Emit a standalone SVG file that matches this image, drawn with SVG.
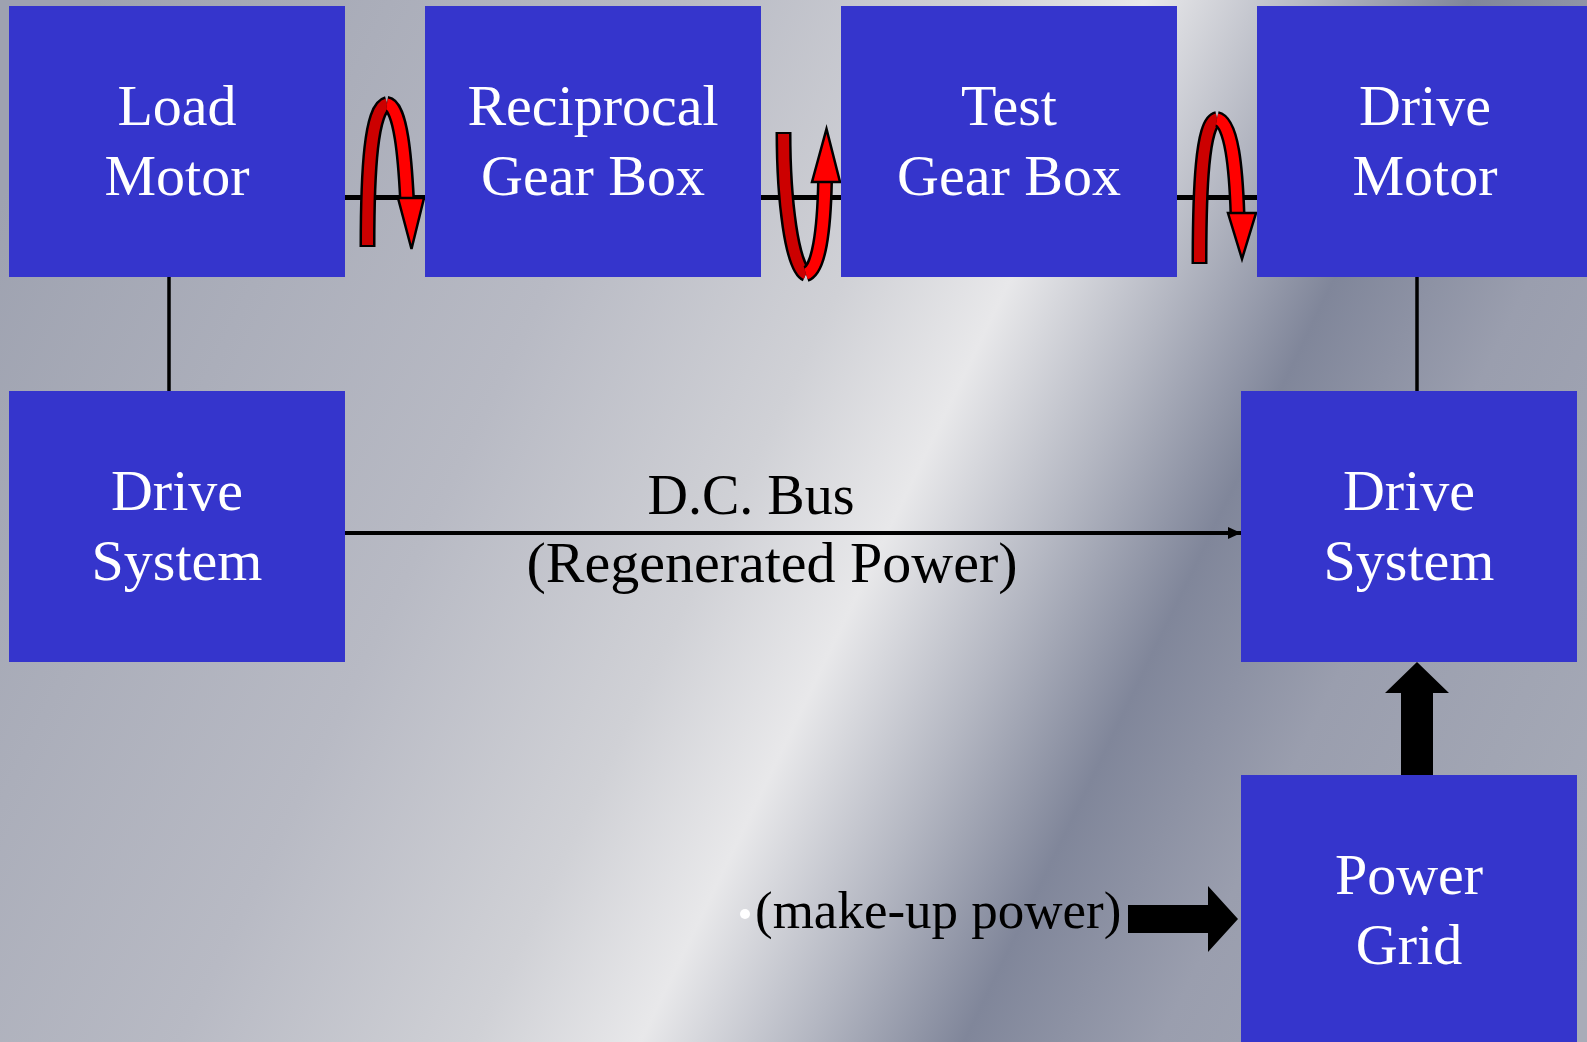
<svg xmlns="http://www.w3.org/2000/svg" width="1587" height="1042" viewBox="0 0 1587 1042">
<defs>
<linearGradient id="bg" gradientUnits="userSpaceOnUse" x1="0" y1="200" x2="1587" y2="970">
<stop offset="0" stop-color="#9ea2b0"/>
<stop offset="0.3" stop-color="#b8bac4"/>
<stop offset="0.45" stop-color="#d0d1d6"/>
<stop offset="0.535" stop-color="#e8e8ea"/>
<stop offset="0.62" stop-color="#b4b7c2"/>
<stop offset="0.70" stop-color="#80869a"/>
<stop offset="0.8" stop-color="#9a9eae"/>
<stop offset="1" stop-color="#a8acb8"/>
</linearGradient>
<marker id="ah" markerWidth="13" markerHeight="12" refX="13" refY="6" orient="auto" markerUnits="userSpaceOnUse">
<path d="M0,0 L13,6 L0,12 Z" fill="#000"/>
</marker>
<style>
.box{fill:#3535cc}
.bt{font-family:"Liberation Serif",serif;font-size:58px;fill:#fff;text-anchor:middle}
.lt{font-family:"Liberation Serif",serif;fill:#000}
.ol{fill:none;stroke:#000;stroke-width:16}
.dk{fill:none;stroke:#cc0000;stroke-width:11}
.br{fill:none;stroke:#ff0000;stroke-width:11}
.hd{fill:#ff0000;stroke:#000;stroke-width:2.5;stroke-linejoin:miter}
</style>
</defs>
<rect x="0" y="0" width="1587" height="1042" fill="url(#bg)"/>
<g id="connectors">
<line x1="345" y1="197.5" x2="1257" y2="197.5" stroke="#000" stroke-width="5"/>
<line x1="169" y1="277" x2="169" y2="391" stroke="#000" stroke-width="3.5"/>
<line x1="1417" y1="277" x2="1417" y2="391" stroke="#000" stroke-width="3.5"/>
<line x1="345" y1="533" x2="1241" y2="533" stroke="#000" stroke-width="4" marker-end="url(#ah)"/>
<polygon points="1401,775 1433,775 1433,693 1449,693 1417,662 1385,693 1401,693" fill="#000"/>
<polygon points="1128,905 1208,905 1208,886 1238,919 1208,952 1208,933 1128,933" fill="#000"/>
</g>
<g id="rot1">
<path class="ol" d="M367.5,247 C367.5,170 371,108 387,104"/>
<path class="dk" d="M367.5,245 C367.5,170 371,108 387,104"/>
<path class="ol" d="M387,104 C401,106 405,160 407,199"/>
<path class="br" d="M387,104 C401,106 405,160 407,200"/>
<polygon class="hd" points="398,198 424,198 411.5,249"/>
</g>
<g id="rot2">
<path class="ol" d="M783.5,132 C783.5,200 792,268 806,274"/>
<path class="dk" d="M783.5,134 C783.5,200 792,268 806,274"/>
<path class="ol" d="M806,274 C819,270 824,230 825,182"/>
<path class="br" d="M806,274 C819,270 824,230 825,181"/>
<polygon class="hd" points="812,182 840,182 826.5,129"/>
</g>
<g id="rot3">
<path class="ol" d="M1199.5,264 C1199.5,190 1202,122 1217,119"/>
<path class="dk" d="M1199.5,262 C1199.5,190 1202,122 1217,119"/>
<path class="ol" d="M1217,119 C1232,122 1236,170 1237.5,214"/>
<path class="br" d="M1217,119 C1232,122 1236,170 1237.5,215"/>
<polygon class="hd" points="1228,213 1256,213 1242,259"/>
</g>
<g id="load-motor">
<rect class="box" x="9" y="6" width="336" height="271"/>
<text class="bt" x="177" y="125">Load</text>
<text class="bt" x="177" y="195">Motor</text>
</g>
<g id="reciprocal-gear-box">
<rect class="box" x="425" y="6" width="336" height="271"/>
<text class="bt" x="593" y="125">Reciprocal</text>
<text class="bt" x="593" y="195">Gear Box</text>
</g>
<g id="test-gear-box">
<rect class="box" x="841" y="6" width="336" height="271"/>
<text class="bt" x="1009" y="125">Test</text>
<text class="bt" x="1009" y="195">Gear Box</text>
</g>
<g id="drive-motor">
<rect class="box" x="1257" y="6" width="336" height="271"/>
<text class="bt" x="1425" y="125">Drive</text>
<text class="bt" x="1425" y="195">Motor</text>
</g>
<g id="drive-system-left">
<rect class="box" x="9" y="391" width="336" height="271"/>
<text class="bt" x="177" y="510">Drive</text>
<text class="bt" x="177" y="580">System</text>
</g>
<g id="drive-system-right">
<rect class="box" x="1241" y="391" width="336" height="271"/>
<text class="bt" x="1409" y="510">Drive</text>
<text class="bt" x="1409" y="580">System</text>
</g>
<g id="power-grid">
<rect class="box" x="1241" y="775" width="336" height="275"/>
<text class="bt" x="1409" y="894">Power</text>
<text class="bt" x="1409" y="964">Grid</text>
</g>
<g id="labels">
<text class="lt" x="751" y="514" font-size="56" text-anchor="middle">D.C. Bus</text>
<text class="lt" x="772" y="582" font-size="58" text-anchor="middle">(Regenerated Power)</text>
<circle cx="745" cy="914" r="5" fill="#fff"/>
<text class="lt" x="755" y="928" font-size="53">(make-up power)</text>
</g>
</svg>
